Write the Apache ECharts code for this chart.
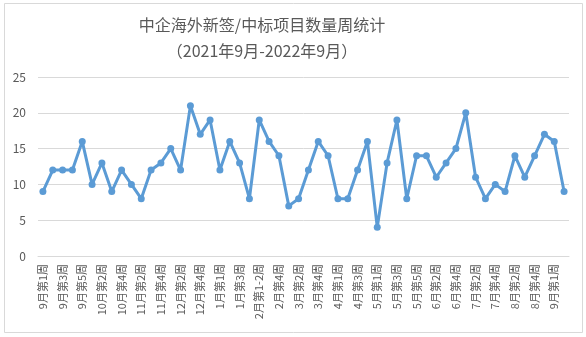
<!DOCTYPE html>
<html>
<head>
<meta charset="utf-8">
<script src="https://cdn.jsdelivr.net/npm/echarts@6/dist/echarts.min.js"></script>
<style>
html,body{margin:0;padding:0;background:#fff;}
#main{width:586px;height:337px;}
</style>
</head>
<body>
<div id="main"></div>
<script>
var titleText = '中企海外新签/中标项目数量周统计\n（2021年9月-2022年9月）';
var categories = [
  '9月第1周','9月第2周','9月第3周','9月第4周','9月第5周',
  '10月第1周','10月第2周','10月第3周','10月第4周',
  '11月第1周','11月第2周','11月第3周','11月第4周',
  '12月第1周','12月第2周','12月第3周','12月第4周','12月第5周',
  '1月第1周','1月第2周','1月第3周','1月第4周',
  '2月第1-2周','2月第3周','2月第4周',
  '3月第1周','3月第2周','3月第3周','3月第4周','3月第5周',
  '4月第1周','4月第2周','4月第3周','4月第4周',
  '5月第1周','5月第2周','5月第3周','5月第4周','5月第5周',
  '6月第1周','6月第2周','6月第3周','6月第4周',
  '7月第1周','7月第2周','7月第3周','7月第4周',
  '8月第1周','8月第2周','8月第3周','8月第4周','8月第5周',
  '9月第1周','9月第2周'
];
var values = [
  9,12,12,12,16,10,13,9,12,10,
  8,12,13,15,12,21,17,19,12,16,
  13,8,19,16,14,7,8,12,16,14,
  8,8,12,16,4,13,19,8,14,14,
  11,13,15,20,11,8,10,9,14,11,
  14,17,16,9
];
var yMin = 0, yMax = 25, yInterval = 5;

var font = '"Noto Sans CJK SC", "Microsoft YaHei", sans-serif';
var chart = echarts.init(document.getElementById('main'), null, {renderer: 'canvas'});
chart.setOption({
  backgroundColor: '#ffffff',
  animation: false,
  title: {
    text: titleText,
    left: 262,
    top: 12,
    padding: 0,
    textAlign: 'center',
    textStyle: {
      fontFamily: font,
      fontSize: 16,
      fontWeight: 'normal',
      color: '#595959',
      lineHeight: 26
    }
  },
  graphic: [{
    type: 'rect',
    shape: {x: 4.5, y: 3.5, width: 578, height: 329},
    style: {fill: 'none', stroke: '#D9D9D9', lineWidth: 1},
    silent: true
  }],
  grid: {left: 38, right: 17, top: 77, bottom: 81, containLabel: false},
  xAxis: {
    type: 'category',
    data: categories,
    boundaryGap: true,
    axisLine: {show: true, lineStyle: {color: '#D9D9D9'}},
    axisTick: {show: false},
    axisLabel: {
      interval: 1,
      rotate: 90,
      margin: 8,
      color: '#595959',
      fontFamily: font,
      fontSize: 11
    }
  },
  yAxis: {
    type: 'value',
    min: yMin,
    max: yMax,
    interval: yInterval,
    axisLine: {show: false},
    axisTick: {show: false},
    splitLine: {lineStyle: {color: '#D9D9D9'}},
    axisLabel: {
      margin: 12,
      color: '#595959',
      fontFamily: font,
      fontSize: 12
    }
  },
  series: [{
    type: 'line',
    data: values,
    symbol: 'circle',
    symbolSize: 7,
    showAllSymbol: true,
    lineStyle: {color: '#5B9BD5', width: 3},
    itemStyle: {color: '#5B9BD5'}
  }]
});
</script>
</body>
</html>
